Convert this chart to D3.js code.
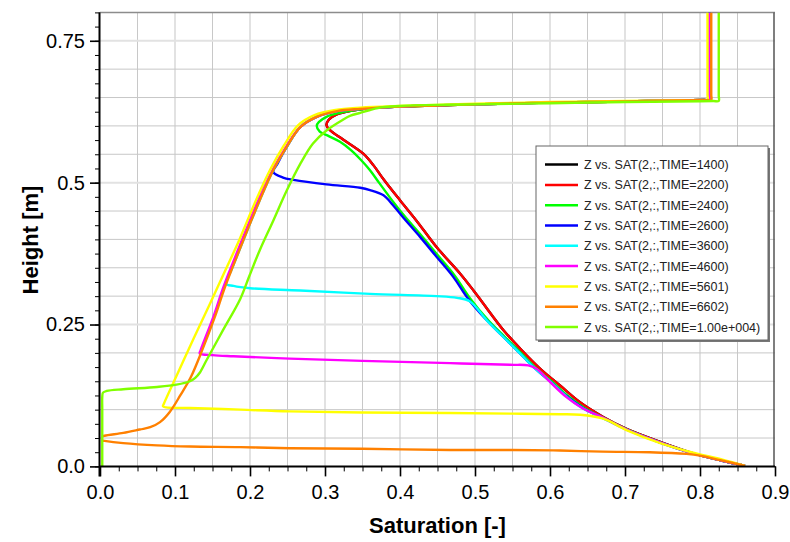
<!DOCTYPE html>
<html><head><meta charset="utf-8">
<script src="https://cdn.jsdelivr.net/npm/d3@7"></script>
<style>body{margin:0;background:#fff}svg{display:block}</style>
</head><body>
<svg id="chart" width="790" height="542"></svg>
<script>
// ---------- data ----------
const seriesNames = ["Z vs. SAT(2,:,TIME=1400)","Z vs. SAT(2,:,TIME=2200)","Z vs. SAT(2,:,TIME=2400)","Z vs. SAT(2,:,TIME=2600)","Z vs. SAT(2,:,TIME=3600)","Z vs. SAT(2,:,TIME=4600)","Z vs. SAT(2,:,TIME=5601)","Z vs. SAT(2,:,TIME=6602)","Z vs. SAT(2,:,TIME=1.00e+004)"];
const seriesColors = ["#000000","#ff0000","#00ff00","#0000ff","#00ffff","#ff00ff","#ffff00","#ff8000","#80ff00"];
const xTicks = [0,0.1,0.2,0.3,0.4,0.5,0.6,0.7,0.8,0.9];
const xTickLabels = ["0.0","0.1","0.2","0.3","0.4","0.5","0.6","0.7","0.8","0.9"];
const yTicks = [0,0.25,0.5,0.75];
const yTickLabels = ["0.0","0.25","0.5","0.75"];

// [saturation, height]
const sat1400 = [[0.8125,0.80],[0.8125,0.70],[0.8125,0.655],[0.8125,0.646],[0.805,0.6458],[0.79,0.6455],[0.70,0.643],[0.60,0.641],[0.50,0.638],[0.45,0.636],[0.40,0.634],[0.36,0.631],[0.336,0.627],[0.315,0.620],[0.305,0.611],[0.302,0.601],[0.307,0.592],[0.324,0.576],[0.351,0.551],[0.365,0.530],[0.378,0.506],[0.40,0.469],[0.422,0.433],[0.449,0.386],[0.48,0.34],[0.498,0.310],[0.511,0.287],[0.538,0.24],[0.562,0.205],[0.587,0.172],[0.613,0.143],[0.64,0.113],[0.671,0.087],[0.702,0.066],[0.747,0.043],[0.791,0.023],[0.83,0.010],[0.86,0.001]];
const sat2200 = [[0.8125,0.80],[0.8125,0.70],[0.8125,0.655],[0.8125,0.646],[0.805,0.6458],[0.79,0.6455],[0.70,0.643],[0.60,0.641],[0.50,0.638],[0.45,0.636],[0.40,0.634],[0.36,0.631],[0.336,0.627],[0.315,0.620],[0.305,0.611],[0.302,0.601],[0.307,0.592],[0.324,0.576],[0.351,0.551],[0.365,0.530],[0.378,0.506],[0.40,0.469],[0.422,0.433],[0.449,0.386],[0.48,0.34],[0.498,0.310],[0.511,0.287],[0.538,0.24],[0.562,0.205],[0.587,0.172],[0.613,0.143],[0.64,0.113],[0.671,0.087],[0.702,0.066],[0.747,0.043],[0.791,0.023],[0.83,0.010],[0.86,0.001]];
const sat2400 = [[0.8125,0.80],[0.8125,0.70],[0.8125,0.655],[0.8125,0.646],[0.805,0.6458],[0.79,0.6455],[0.70,0.643],[0.60,0.641],[0.50,0.638],[0.45,0.636],[0.40,0.634],[0.36,0.631],[0.336,0.627],[0.316,0.622],[0.302,0.616],[0.292,0.607],[0.289,0.600],[0.293,0.590],[0.305,0.582],[0.32,0.572],[0.335,0.557],[0.348,0.54],[0.36,0.522],[0.372,0.50],[0.382,0.482],[0.391,0.466],[0.406,0.441],[0.429,0.406],[0.451,0.371],[0.473,0.336],[0.493,0.297],[0.518,0.257],[0.540,0.228],[0.562,0.199],[0.580,0.175],[0.602,0.15],[0.624,0.124],[0.646,0.103],[0.672,0.085],[0.703,0.065],[0.747,0.042],[0.791,0.023],[0.83,0.010],[0.86,0.001]];
const sat2600 = [[0.8125,0.80],[0.8125,0.70],[0.8125,0.655],[0.8125,0.646],[0.805,0.6458],[0.79,0.6455],[0.70,0.643],[0.60,0.641],[0.50,0.638],[0.40,0.634],[0.347,0.630],[0.316,0.626],[0.289,0.616],[0.267,0.598],[0.249,0.563],[0.236,0.532],[0.231,0.519],[0.244,0.509],[0.258,0.505],[0.302,0.497],[0.347,0.491],[0.36,0.487],[0.378,0.478],[0.387,0.466],[0.404,0.439],[0.427,0.404],[0.449,0.369],[0.471,0.334],[0.491,0.295],[0.516,0.257],[0.538,0.228],[0.56,0.199],[0.578,0.175],[0.60,0.15],[0.622,0.124],[0.644,0.103],[0.671,0.085],[0.702,0.065],[0.747,0.042],[0.791,0.023],[0.83,0.010],[0.86,0.001]];
const sat3600 = [[0.8125,0.80],[0.8125,0.70],[0.8125,0.655],[0.8125,0.646],[0.805,0.6458],[0.79,0.6455],[0.70,0.643],[0.60,0.641],[0.50,0.638],[0.40,0.634],[0.347,0.630],[0.316,0.626],[0.289,0.616],[0.267,0.598],[0.249,0.563],[0.231,0.522],[0.213,0.469],[0.191,0.398],[0.175,0.345],[0.168,0.322],[0.178,0.318],[0.20,0.314],[0.267,0.310],[0.36,0.304],[0.449,0.300],[0.476,0.297],[0.493,0.291],[0.516,0.257],[0.538,0.228],[0.56,0.199],[0.578,0.175],[0.60,0.15],[0.622,0.123],[0.644,0.102],[0.669,0.086],[0.702,0.065],[0.747,0.042],[0.791,0.023],[0.83,0.010],[0.86,0.001]];
const sat4600 = [[0.8125,0.80],[0.8125,0.70],[0.8125,0.655],[0.8125,0.646],[0.805,0.6458],[0.79,0.6455],[0.70,0.643],[0.60,0.641],[0.50,0.638],[0.40,0.634],[0.347,0.630],[0.316,0.626],[0.289,0.616],[0.267,0.598],[0.248,0.563],[0.230,0.522],[0.211,0.469],[0.189,0.398],[0.173,0.345],[0.163,0.31],[0.151,0.263],[0.134,0.204],[0.133,0.199],[0.15,0.196],[0.178,0.194],[0.253,0.19],[0.35,0.186],[0.467,0.182],[0.547,0.179],[0.571,0.178],[0.582,0.172],[0.60,0.149],[0.622,0.122],[0.644,0.102],[0.669,0.087],[0.702,0.065],[0.747,0.042],[0.791,0.023],[0.83,0.010],[0.86,0.001]];
const sat5601 = [[0.810,0.80],[0.810,0.70],[0.810,0.655],[0.810,0.646],[0.803,0.6458],[0.79,0.6455],[0.70,0.644],[0.60,0.642],[0.50,0.639],[0.45,0.637],[0.40,0.635],[0.347,0.632],[0.314,0.628],[0.286,0.619],[0.264,0.601],[0.245,0.565],[0.227,0.523],[0.208,0.469],[0.186,0.40],[0.167,0.345],[0.146,0.285],[0.125,0.226],[0.105,0.168],[0.085,0.110],[0.084,0.106],[0.088,0.104],[0.12,0.103],[0.187,0.100],[0.253,0.097],[0.35,0.095],[0.467,0.094],[0.55,0.093],[0.613,0.092],[0.64,0.091],[0.671,0.084],[0.702,0.064],[0.747,0.041],[0.791,0.024],[0.83,0.012],[0.86,0.001]];
const sat6602 = [[0.815,0.80],[0.815,0.70],[0.815,0.655],[0.815,0.646],[0.808,0.6458],[0.79,0.6455],[0.70,0.643],[0.60,0.641],[0.50,0.638],[0.45,0.636],[0.40,0.634],[0.347,0.630],[0.316,0.626],[0.289,0.616],[0.267,0.598],[0.249,0.563],[0.231,0.522],[0.213,0.469],[0.191,0.398],[0.175,0.345],[0.165,0.31],[0.153,0.263],[0.136,0.204],[0.121,0.157],[0.107,0.125],[0.093,0.096],[0.08,0.078],[0.067,0.069],[0.053,0.065],[0.031,0.059],[0.006,0.054],[0.002,0.052],[0.002,0.046],[0.006,0.045],[0.031,0.041],[0.076,0.037],[0.12,0.035],[0.187,0.034],[0.253,0.032],[0.35,0.031],[0.467,0.029],[0.55,0.029],[0.613,0.028],[0.67,0.026],[0.733,0.025],[0.782,0.022],[0.80,0.019],[0.827,0.011],[0.86,0.001]];
const sat10000 = [[0.825,0.80],[0.825,0.70],[0.825,0.653],[0.825,0.644],[0.818,0.6438],[0.80,0.6435],[0.70,0.642],[0.60,0.640],[0.50,0.638],[0.45,0.637],[0.40,0.635],[0.377,0.633],[0.36,0.628],[0.347,0.623],[0.334,0.618],[0.324,0.611],[0.302,0.592],[0.284,0.569],[0.267,0.533],[0.249,0.486],[0.231,0.433],[0.213,0.381],[0.199,0.335],[0.187,0.295],[0.164,0.240],[0.142,0.187],[0.133,0.165],[0.127,0.156],[0.12,0.150],[0.102,0.144],[0.076,0.140],[0.031,0.136],[0.009,0.133],[0.004,0.130],[0.003,0.122],[0.003,0.10],[0.003,0.0]];

const seriesData = [sat1400,sat2200,sat2400,sat2600,sat3600,sat4600,sat5601,sat6602,sat10000];

// ---------- layout ----------
const svg = d3.select("#chart");
const L = 100, R = 775, T = 12.4, B = 466.4;
const x = d3.scaleLinear().domain([0,0.9]).range([L,R]);
const y = d3.scaleLinear().domain([0,0.8]).range([B,T]);
const font = "'Liberation Sans', Arial, sans-serif";

svg.append("rect").attr("width",790).attr("height",542).attr("fill","#fff");

// grid
const xGrid = d3.range(1,18).map(i=>i*0.05);
const yGrid = d3.range(1,16).map(i=>i*0.05);
const isMajX = v => Math.abs(v*10 - Math.round(v*10))<1e-6;
const isMajY = v => Math.abs(v*4 - Math.round(v*4))<1e-6;
const g = svg.append("g");
g.selectAll("line.vx").data(xGrid).join("line")
  .attr("x1",d=>x(d)).attr("x2",d=>x(d)).attr("y1",T).attr("y2",B)
  .attr("stroke",d=>isMajX(d)?"#e2e2e2":"#c8c8c8").attr("stroke-width",d=>isMajX(d)?2:1);
g.selectAll("line.hy").data(yGrid).join("line")
  .attr("y1",d=>y(d)).attr("y2",d=>y(d)).attr("x1",L).attr("x2",R)
  .attr("stroke",d=>isMajY(d)?"#e2e2e2":"#c8c8c8").attr("stroke-width",d=>isMajY(d)?2:1);

// frame top/right
svg.append("line").attr("x1",L).attr("x2",R).attr("y1",T).attr("y2",T).attr("stroke","#8c8c8c").attr("stroke-width",1.5);
svg.append("line").attr("x1",R-1).attr("x2",R-1).attr("y1",T).attr("y2",B).attr("stroke","#555").attr("stroke-width",1.5);

// lines
svg.append("clipPath").attr("id","clip").append("rect").attr("x",L+1).attr("y",T).attr("width",R-L-1).attr("height",B-T+2);
const line = d3.line().x(d=>x(d[0])).y(d=>y(d[1])).curve(d3.curveCatmullRom.alpha(0.5));
svg.append("g").attr("clip-path","url(#clip)").selectAll("path").data(seriesData).join("path")
  .attr("d",line).attr("fill","none").attr("stroke",(d,i)=>seriesColors[i])
  .attr("stroke-width",2.4).attr("stroke-linejoin","round");

// axes
const xMinor = d3.range(0,37).map(i=>i*0.025);
const yMinor = d3.range(0,33).map(i=>i*0.025);
const ax = svg.append("g").attr("transform",`translate(0,${B})`);
ax.call(d3.axisBottom(x).tickValues(xMinor).tickSize(5).tickFormat(""));
ax.call(g=>g.select(".domain").remove());
const axM = svg.append("g").attr("transform",`translate(0,${B})`);
axM.call(d3.axisBottom(x).tickValues(xTicks).tickSize(10).tickPadding(8).tickFormat((d,i)=>xTickLabels[i]));
axM.select(".domain").remove();
axM.selectAll("line").attr("stroke-width",1.6);
axM.selectAll("text").attr("font-family",font).attr("font-size",20).attr("fill","#000");

const ay = svg.append("g").attr("transform",`translate(${L},0)`);
ay.call(d3.axisLeft(y).tickValues(yMinor).tickSize(5).tickFormat(""));
ay.select(".domain").remove();
const ayM = svg.append("g").attr("transform",`translate(${L},0)`);
ayM.call(d3.axisLeft(y).tickValues(yTicks).tickSize(10).tickPadding(5).tickFormat((d,i)=>yTickLabels[i]));
ayM.select(".domain").remove();
ayM.selectAll("line").attr("stroke-width",1.6);
ayM.selectAll("text").attr("font-family",font).attr("font-size",20).attr("fill","#000");

svg.append("line").attr("x1",L-0.5).attr("x2",L-0.5).attr("y1",T).attr("y2",B+10).attr("stroke","#000").attr("stroke-width",2);
svg.append("line").attr("x1",L).attr("x2",R).attr("y1",B).attr("y2",B).attr("stroke","#000").attr("stroke-width",2);

// titles
svg.append("text").attr("x",(L+R)/2).attr("y",533).attr("text-anchor","middle")
  .attr("font-family",font).attr("font-weight","bold").attr("font-size",22).text("Saturation [-]");
svg.append("text").attr("transform","translate(38,240) rotate(-90)").attr("text-anchor","middle")
  .attr("font-family",font).attr("font-weight","bold").attr("font-size",22).text("Height [m]");

// legend
const lg = svg.append("g");
lg.append("rect").attr("x",538).attr("y",148).attr("width",232).attr("height",194).attr("fill","#777");
lg.append("rect").attr("x",536).attr("y",146).attr("width",232).attr("height",194).attr("fill","#fff").attr("stroke","#666").attr("stroke-width",1);
const rows = lg.selectAll("g.r").data(seriesNames).join("g").attr("transform",(d,i)=>`translate(0,${164.6+i*20.3})`);
rows.append("line").attr("x1",545).attr("x2",578).attr("stroke",(d,i)=>seriesColors[i]).attr("stroke-width",2.5);
rows.append("text").attr("x",584).attr("y",4.5).attr("font-family",font).attr("font-size",12.5).attr("fill","#222").text(d=>d);
</script>
</body></html>
